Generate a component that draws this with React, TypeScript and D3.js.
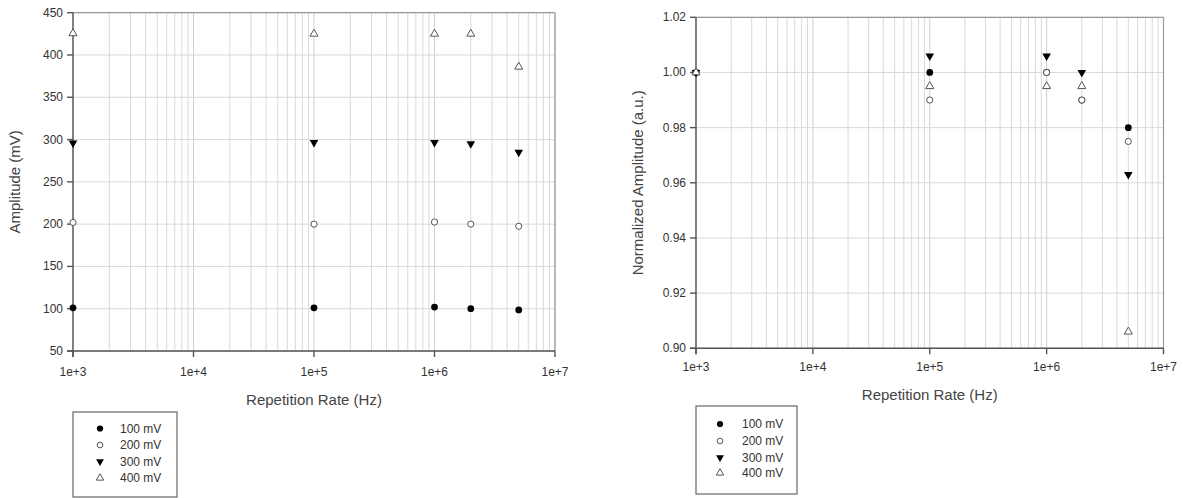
import React from "react";
import * as d3 from "d3";

// ---- Data ----
const rates = [1e3, 1e5, 1e6, 2e6, 5e6];
const seriesNames = ["100 mV", "200 mV", "300 mV", "400 mV"];

// Left chart: absolute amplitude (mV)
const amp100 = [101, 101, 102, 100, 98.5];
const amp200 = [202, 200, 202.5, 200, 197.5];
const amp300 = [296, 296.5, 296.5, 295, 285];
const amp400 = [425.5, 425, 425, 425, 386];

// Right chart: normalized amplitude
const norm100 = [1.0, 1.0, 1.0, 0.99, 0.98];
const norm200 = [1.0, 0.99, 1.0, 0.99, 0.975];
const norm300 = [1.0, 1.006, 1.006, 1.0, 0.963];
const norm400 = [1.0, 0.995, 0.995, 0.995, 0.906];

const xTickValues = [1e3, 1e4, 1e5, 1e6, 1e7];
const xTickLabels = ["1e+3", "1e+4", "1e+5", "1e+6", "1e+7"];
const leftYTicks = [50, 100, 150, 200, 250, 300, 350, 400, 450];
const rightYTicks = [0.9, 0.92, 0.94, 0.96, 0.98, 1.0, 1.02];

const leftTitleY = "Amplitude (mV)";
const rightTitleY = "Normalized Amplitude (a.u.)";
const titleX = "Repetition Rate (Hz)";

const FONT = "'Liberation Sans', Arial, sans-serif";

type Kind = "filledCircle" | "openCircle" | "filledTriDown" | "openTriUp";
const kinds: Kind[] = ["filledCircle", "openCircle", "filledTriDown", "openTriUp"];

function Marker({ kind, x, y, s = 1 }: { kind: Kind; x: number; y: number; s?: number }) {
  const circle = d3.symbol().type(d3.symbolCircle).size(36 * s)()!;
  const ocircle = d3.symbol().type(d3.symbolCircle).size(30 * s)()!;
  const tri = d3.symbol().type(d3.symbolTriangle).size(32 * s)()!;
  const otri = d3.symbol().type(d3.symbolTriangle).size(28 * s)()!;
  if (kind === "filledCircle")
    return <path d={circle} transform={`translate(${x},${y})`} fill="#000" />;
  if (kind === "openCircle")
    return <path d={ocircle} transform={`translate(${x},${y})`} fill="#fff" stroke="#555" strokeWidth={1} />;
  if (kind === "filledTriDown")
    return <path d={tri} transform={`translate(${x},${y}) rotate(180)`} fill="#000" />;
  return <path d={otri} transform={`translate(${x},${y})`} fill="#fff" stroke="#555" strokeWidth={1} />;
}

interface PanelProps {
  x0: number; x1: number; yTop: number; yBot: number;
  yDomain: [number, number];
  yTicks: number[];
  yFmt: (v: number) => string;
  series: number[][];
  yTitle: string; yTitleX: number;
  xTitleY: number; xTickY: number;
  legend: { x: number; y: number; w: number; h: number; mx: number; tx: number; rows: number[] };
}

function Panel(p: PanelProps) {
  const x = d3.scaleLog().domain([1e3, 1e7]).range([p.x0, p.x1]);
  const y = d3.scaleLinear().domain(p.yDomain).range([p.yBot, p.yTop]);
  const minor: number[] = [];
  for (let e = 3; e < 7; e++) for (let m = 2; m <= 9; m++) minor.push(m * Math.pow(10, e));
  const midY = (p.yTop + p.yBot) / 2;
  return (
    <g>
      {/* grid */}
      {minor.map((v, i) => (
        <line key={"m" + i} x1={x(v)} x2={x(v)} y1={p.yTop} y2={p.yBot} stroke="#d9d9d9" strokeWidth={1} />
      ))}
      {xTickValues.map((v, i) => (
        <line key={"M" + i} x1={x(v)} x2={x(v)} y1={p.yTop} y2={p.yBot} stroke="#cfcfcf" strokeWidth={1} />
      ))}
      {p.yTicks.map((v, i) => (
        <line key={"h" + i} x1={p.x0} x2={p.x1} y1={y(v)} y2={y(v)} stroke="#d9d9d9" strokeWidth={1} />
      ))}
      {/* frame */}
      <line x1={p.x0} x2={p.x1} y1={p.yTop} y2={p.yTop} stroke="#999" strokeWidth={1.2} />
      <line x1={p.x1} x2={p.x1} y1={p.yTop} y2={p.yBot} stroke="#999" strokeWidth={1.2} />
      <line x1={p.x0} x2={p.x0} y1={p.yTop} y2={p.yBot + 6} stroke="#555" strokeWidth={1.4} />
      <line x1={p.x0 - 6} x2={p.x1} y1={p.yBot} y2={p.yBot} stroke="#555" strokeWidth={1.4} />
      {/* y ticks */}
      {p.yTicks.map((v, i) => (
        <g key={"yt" + i}>
          <line x1={p.x0 - 6} x2={p.x0} y1={y(v)} y2={y(v)} stroke="#555" strokeWidth={1.4} />
          <text x={p.x0 - 10} y={y(v) + 4} textAnchor="end" fontSize={12} fontFamily={FONT} fill="#333">
            {p.yFmt(v)}
          </text>
        </g>
      ))}
      {/* x ticks */}
      {xTickValues.map((v, i) => (
        <g key={"xt" + i}>
          <line x1={x(v)} x2={x(v)} y1={p.yBot} y2={p.yBot + 6} stroke="#555" strokeWidth={1.4} />
          <text x={x(v)} y={p.xTickY} textAnchor="middle" fontSize={12} fontFamily={FONT} fill="#333">
            {xTickLabels[i]}
          </text>
        </g>
      ))}
      {/* titles */}
      <text x={(p.x0 + p.x1) / 2} y={p.xTitleY} textAnchor="middle" fontSize={15} fontFamily={FONT} fill="#444">
        {titleX}
      </text>
      <text transform={`translate(${p.yTitleX},${midY}) rotate(-90)`} textAnchor="middle" fontSize={15}
        fontFamily={FONT} fill="#444">
        {p.yTitle}
      </text>
      {/* data */}
      {p.series.map((vals, si) =>
        vals.map((v, i) => <Marker key={si + "-" + i} kind={kinds[si]} x={x(rates[i])} y={y(v)} />)
      )}
      {/* legend */}
      <rect x={p.legend.x} y={p.legend.y} width={p.legend.w} height={p.legend.h} fill="#fff" stroke="#666" strokeWidth={1.2} />
      {seriesNames.map((n, i) => (
        <g key={"lg" + i}>
          <Marker kind={kinds[i]} x={p.legend.mx} y={p.legend.rows[i]} s={0.85} />
          <text x={p.legend.tx} y={p.legend.rows[i] + 4} fontSize={12} fontFamily={FONT} fill="#333">
            {n}
          </text>
        </g>
      ))}
    </g>
  );
}

export default function App() {
  return (
    <svg width={1183} height={498} style={{ position: "absolute", left: 0, top: 0, background: "#fff" }}>
      <rect width={1183} height={498} fill="#fff" />
      <Panel
        x0={73} x1={555} yTop={12.7} yBot={351}
        yDomain={[50, 450]} yTicks={leftYTicks} yFmt={(v) => String(v)}
        series={[amp100, amp200, amp300, amp400]}
        yTitle={leftTitleY} yTitleX={20}
        xTitleY={405} xTickY={376}
        legend={{ x: 73, y: 412, w: 104, h: 85, mx: 100, tx: 120, rows: [428.5, 445, 461.5, 478] }}
      />
      <Panel
        x0={696} x1={1163.5} yTop={17.3} yBot={348.3}
        yDomain={[0.9, 1.02]} yTicks={rightYTicks} yFmt={(v) => v.toFixed(2)}
        series={[norm100, norm200, norm300, norm400]}
        yTitle={rightTitleY} yTitleX={643}
        xTitleY={400} xTickY={371}
        legend={{ x: 696, y: 406, w: 101, h: 88, mx: 720, tx: 742, rows: [424, 441, 457.5, 473] }}
      />
    </svg>
  );
}
